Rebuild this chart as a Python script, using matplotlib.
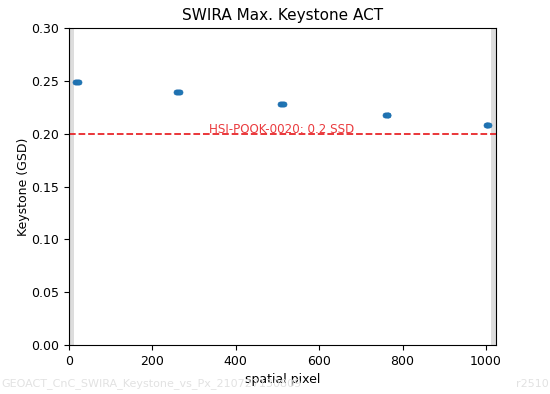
import matplotlib.pyplot as plt

# keystone samples per field position (several pixels around each position)
pixels = [16, 18, 20, 22, 24,
          258, 260, 262, 264, 266,
          507, 509, 511, 513, 515,
          758, 760, 762, 764, 766,
          999, 1001, 1003, 1005, 1007]
keystone = [0.249, 0.249, 0.249, 0.249, 0.249,
            0.239, 0.239, 0.239, 0.239, 0.239,
            0.2285, 0.2285, 0.2285, 0.2285, 0.2285,
            0.218, 0.218, 0.218, 0.218, 0.218,
            0.208, 0.208, 0.208, 0.208, 0.208]

req_value = 0.2
req_label = 'HSI-POOK-0020: 0.2 SSD'
n_pixels = 1024
edge_width = 13


def plot_keystone():
    fig = plt.figure(figsize=(5.5, 3.94), dpi=100)
    ax = fig.add_subplot(1, 1, 1)
    fig.subplots_adjust(left=0.125, right=0.902, top=0.929, bottom=0.124)

    ax.axvspan(0, edge_width, color='#dddddd', lw=0)
    ax.axvspan(n_pixels - edge_width, n_pixels, color='#dddddd', lw=0)
    ax.plot(pixels, keystone, 'o', color='#1f77b4', ms=3.6, mec='#1f6fb0', mew=0.5)
    ax.axhline(req_value, color='#e8262a', ls='--', lw=1.3)
    ax.text(336, req_value + 0.0043, req_label,
            color='#e8262a', fontsize=8.6, va='center', ha='left', alpha=0.9)

    ax.set_xlim(0, n_pixels)
    ax.set_ylim(0, 0.3)
    ax.set_xticks([0, 200, 400, 600, 800, 1000])
    ax.set_yticks([0.0, 0.05, 0.1, 0.15, 0.2, 0.25, 0.3])
    ax.tick_params(labelsize=9)
    ax.set_title('SWIRA Max. Keystone ACT', fontsize=11)
    ax.set_xlabel('spatial pixel', fontsize=9)
    ax.set_ylabel('Keystone (GSD)', fontsize=9, labelpad=1)

    fig.text(0.002, 0.012, 'GEOACT_CnC_SWIRA_Keystone_vs_Px_210727130809',
             color='#e2e2e2', fontsize=8, ha='left', va='bottom')
    fig.text(0.998, 0.012, 'r2510', color='#e2e2e2', fontsize=8,
             ha='right', va='bottom')

    plt.savefig('out.png', dpi=100)


if __name__ == '__main__':
    plot_keystone()
